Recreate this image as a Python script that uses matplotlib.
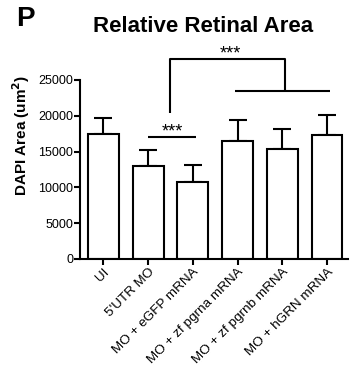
import matplotlib
matplotlib.use('Agg')
import numpy as np
import matplotlib.pyplot as plt

plt.rcParams['font.family'] = ['Liberation Sans', 'DejaVu Sans']

groups = ['UI', "5'UTR MO", 'MO + eGFP mRNA', 'MO + zf pgrna mRNA',
          'MO + zf pgrnb mRNA', 'MO + hGRN mRNA']
means = [17400, 13000, 10800, 16500, 15400, 17300]
errors = [2300, 2200, 2300, 2900, 2700, 2800]
yticks = [0, 5000, 10000, 15000, 20000, 25000]


def main():
    fig = plt.figure(figsize=(3.61, 3.72), dpi=100)
    ax = fig.add_axes([0.222, 0.304, 0.742, 0.481])

    x = np.arange(len(groups))
    ax.bar(x, means, width=0.69, color='white', edgecolor='black',
           linewidth=1.5, zorder=2)
    ax.errorbar(x, means, yerr=[np.zeros(len(errors)), errors], fmt='none',
                ecolor='black', elinewidth=1.5, capsize=6.5, capthick=1.5,
                zorder=1)

    ax.set_xlim(-0.52, 5.47)
    ax.set_ylim(0, 25000)
    ax.set_yticks(yticks)
    ax.set_yticklabels([str(v) for v in yticks], fontsize=9)
    ax.set_xticks(x)
    ax.set_xticklabels(groups, rotation=45, ha='right',
                       rotation_mode='anchor', fontsize=9.7)
    ax.tick_params(direction='out', length=4, width=1.5, pad=1)

    for s in ['top', 'right']:
        ax.spines[s].set_visible(False)
    for s in ['left', 'bottom']:
        ax.spines[s].set_linewidth(1.5)

    ax.set_ylabel(r'DAPI Area (um$^\mathbf{2}$)', fontsize=11,
                  fontweight='bold')
    ax.yaxis.set_label_coords(-0.18, 0.69)

    # significance: 5'UTR MO vs eGFP
    kw = dict(color='black', linewidth=1.5, clip_on=False,
              solid_capstyle='butt')
    ax.plot([1, 2.08], [17000, 17000], **kw)
    ax.text(1.55, 17150, '***', ha='center', va='baseline', fontsize=13)

    # significance: eGFP vs rescue groups
    ax.plot([1.5, 1.5, 4.07, 4.07], [20400, 27900, 27900, 23450], **kw)
    ax.plot([2.94, 5.06], [23450, 23450], **kw)
    ax.text(2.84, 28050, '***', ha='center', va='baseline', fontsize=13)

    fig.text(0.562, 0.928, 'Relative Retinal Area', ha='center',
             va='center', fontsize=16, fontweight='bold')
    fig.text(0.045, 0.949, 'P', ha='left', va='center', fontsize=20,
             fontweight='bold')

    fig.savefig('out.png', dpi=100)


if __name__ == '__main__':
    main()
